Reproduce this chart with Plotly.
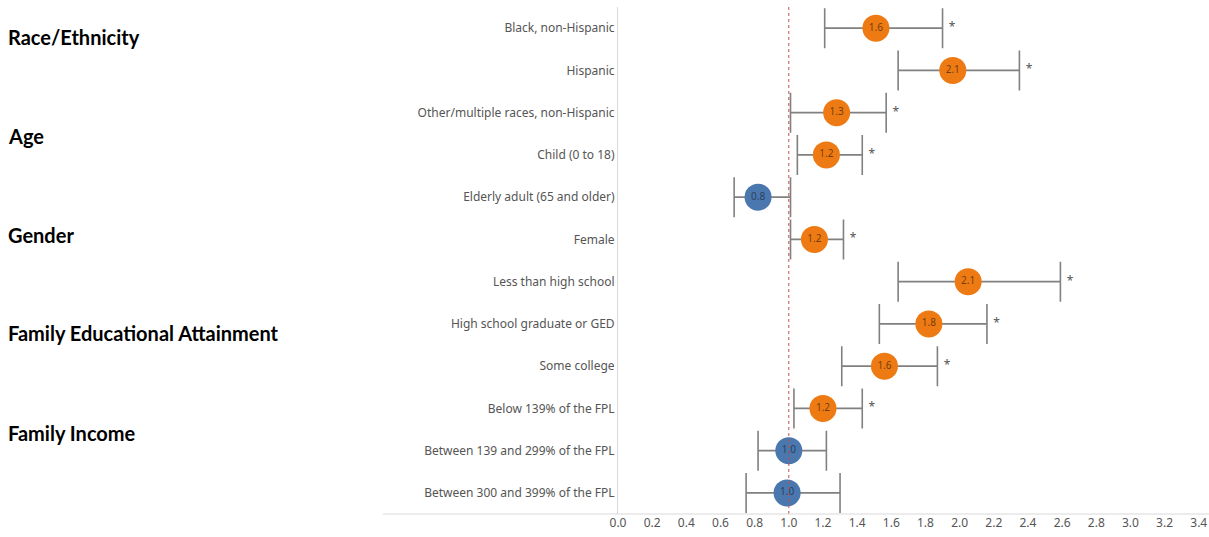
import plotly.graph_objects as go

categories = [
    "Black, non-Hispanic",
    "Hispanic",
    "Other/multiple races, non-Hispanic",
    "Child (0 to 18)",
    "Elderly adult (65 and older)",
    "Female",
    "Less than high school",
    "High school graduate or GED",
    "Some college",
    "Below 139% of the FPL",
    "Between 139 and 299% of the FPL",
    "Between 300 and 399% of the FPL",
]
estimate = [1.51, 1.96, 1.28, 1.22, 0.82, 1.15, 2.05, 1.82, 1.56, 1.20, 1.00, 0.99]
lower = [1.21, 1.64, 1.01, 1.05, 0.68, 1.01, 1.64, 1.53, 1.31, 1.03, 0.82, 0.75]
upper = [1.90, 2.35, 1.57, 1.43, 1.01, 1.32, 2.59, 2.16, 1.87, 1.43, 1.22, 1.30]
point_labels = ["1.6", "2.1", "1.3", "1.2", "0.8", "1.2", "2.1", "1.8", "1.6", "1.2", "1.0", "1.0"]
significant = [True, True, True, True, False, True, True, True, True, True, False, False]

groups = ["Race/Ethnicity", "Age", "Gender", "Family Educational Attainment", "Family Income"]
group_y = [0.941, 0.746, 0.550, 0.357, 0.160]

tick_vals = [round(0.2 * i, 1) for i in range(18)]
tick_text = ["%.1f" % v for v in tick_vals]

ORANGE = "#ED7A12"
BLUE = "#4A77AD"
colors = [ORANGE if s else BLUE for s in significant]
text_colors = ["rgba(70,40,10,0.75)" if s else "rgba(20,30,50,0.65)" for s in significant]

fig = go.Figure()

fig.add_trace(go.Scatter(
    x=estimate, y=categories, mode="markers",
    marker=dict(size=1, color="rgba(0,0,0,0)"),
    error_x=dict(type="data", symmetric=False,
                 array=[u - e for u, e in zip(upper, estimate)],
                 arrayminus=[e - l for e, l in zip(estimate, lower)],
                 color="#808080", thickness=1.6, width=20),
    hoverinfo="skip", showlegend=False,
))

fig.add_trace(go.Scatter(
    x=estimate, y=categories, mode="markers+text",
    marker=dict(size=27, color=colors, line=dict(width=0)),
    text=point_labels, textposition="middle center",
    textfont=dict(family="Noto Sans", size=10, color=text_colors),
    hoverinfo="skip", showlegend=False,
))

sig_x = [u for u, s in zip(upper, significant) if s]
sig_y = [c for c, s in zip(categories, significant) if s]
fig.add_trace(go.Scatter(
    x=sig_x, y=sig_y, mode="text", text=["\u00a0\u00a0*"] * len(sig_x),
    textposition="middle right",
    textfont=dict(family="Noto Sans", size=12, color="#555555"),
    hoverinfo="skip", showlegend=False,
))

fig.add_shape(type="line", xref="x", yref="paper", x0=1.0, x1=1.0, y0=0, y1=1,
              line=dict(color="#C0504D", width=1, dash="dot"))
fig.add_shape(type="line", xref="paper", yref="paper", x0=-0.3976, x1=1, y0=0, y1=0,
              line=dict(color="#D9D9D9", width=1))

for g, gy in zip(groups, group_y):
    fig.add_annotation(text="<b>%s</b>" % g, xref="paper", yref="paper",
                       x=-1.036, y=gy, xanchor="left", yanchor="middle",
                       showarrow=False, font=dict(family="Lato", size=20, color="#000000"))

fig.update_xaxes(range=[0, 3.46], tickvals=tick_vals, ticktext=tick_text,
                 showgrid=False, zeroline=False, showline=False, ticks="",
                 tickfont=dict(family="Noto Sans", size=12, color="#555555"))
fig.update_yaxes(type="category", categoryorder="array", categoryarray=categories,
                 range=[len(categories) - 0.5, -0.5], showgrid=False, zeroline=False,
                 showline=True, linecolor="#D9D9D9", linewidth=1, ticks="",
                 tickfont=dict(family="Noto Sans", size=12, color="#555555"))

fig.update_layout(
    width=1209, height=537,
    margin=dict(l=618, r=0, t=7, b=23),
    paper_bgcolor="white", plot_bgcolor="white",
)

fig.write_html("out.html", config={"displayModeBar": False},
               post_script="document.body.style.margin='0';")
